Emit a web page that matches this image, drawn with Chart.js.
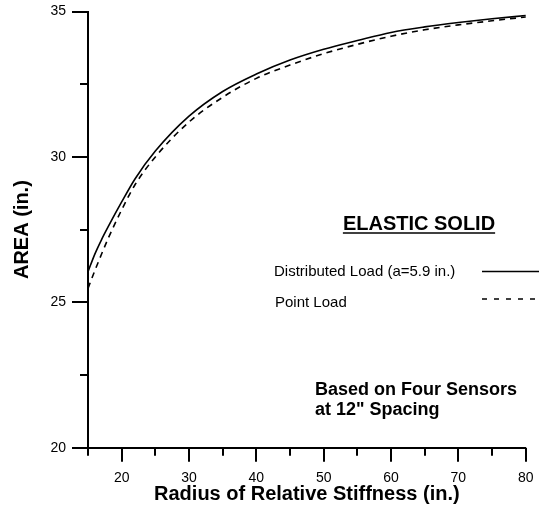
<!DOCTYPE html>
<html>
<head>
<meta charset="utf-8">
<script src="https://cdn.jsdelivr.net/npm/chart.js@4.4.1/dist/chart.umd.min.js"></script>
<style>
  html, body { margin: 0; padding: 0; background: #fff; }
</style>
</head>
<body>
<canvas id="areaChart" width="540" height="506"></canvas>
<script>
// radius of relative stiffness (in.)
const radius = [15, 16, 17, 18, 20, 22, 25, 30, 35, 40, 45, 50, 55, 60, 65, 70, 75, 80];
// AREA (in.)
const distributedArea = [26.05, 26.65, 27.15, 27.6, 28.45, 29.25, 30.2, 31.4, 32.25, 32.85, 33.33, 33.7, 34.0, 34.28, 34.47, 34.62, 34.75, 34.86];
const pointArea = [25.48, 26.08, 26.65, 27.2, 28.18, 29.05, 30.0, 31.2, 32.05, 32.7, 33.16, 33.55, 33.87, 34.15, 34.37, 34.54, 34.68, 34.81];

const xTickLabels = [20, 30, 40, 50, 60, 70, 80];
const xMinorTicks = [15, 25, 35, 45, 55, 65, 75];
const yTickLabels = [20, 25, 30, 35];
const yMinorTicks = [22.5, 27.5, 32.5];

const FONT = "Arial, 'Liberation Sans', sans-serif";

const toPoints = (ys) => radius.map((r, i) => ({ x: r, y: ys[i] }));

// labels may hang over the plot edges, the layout padding decides
const noScalePadding = (scale) => {
  scale.paddingTop = 0;
  scale.paddingBottom = 0;
  scale.paddingLeft = 0;
  scale.paddingRight = 0;
};

// tick marks of two lengths, hung off the library's scales
const tickMarks = {
  id: "tickMarks",
  afterDraw(chart) {
    const { ctx, chartArea } = chart;
    const { x, y } = chart.scales;
    ctx.save();
    ctx.strokeStyle = "#000";
    ctx.lineWidth = 2;
    const xTick = (v, len) => {
      const px = Math.round(x.getPixelForValue(v));
      ctx.beginPath();
      ctx.moveTo(px, chartArea.bottom);
      ctx.lineTo(px, chartArea.bottom + len);
      ctx.stroke();
    };
    const yTick = (v, len) => {
      const py = Math.round(y.getPixelForValue(v));
      ctx.beginPath();
      ctx.moveTo(chartArea.left, py);
      ctx.lineTo(chartArea.left - len, py);
      ctx.stroke();
    };
    xTickLabels.forEach((v) => xTick(v, 14));
    xMinorTicks.forEach((v) => xTick(v, 8));
    yTickLabels.forEach((v) => yTick(v, 16));
    yMinorTicks.forEach((v) => yTick(v, 8));
    ctx.restore();
  },
};

// legend box and note in the empty part of the plot
const notes = {
  id: "notes",
  afterDraw(chart) {
    const { ctx } = chart;
    ctx.save();
    ctx.fillStyle = "#000";
    ctx.strokeStyle = "#000";
    ctx.textBaseline = "alphabetic";

    ctx.font = `bold 20px ${FONT}`;
    ctx.textAlign = "center";
    ctx.fillText("ELASTIC SOLID", 419, 230);
    const w = ctx.measureText("ELASTIC SOLID").width;
    ctx.lineWidth = 1.5;
    ctx.beginPath();
    ctx.moveTo(419 - w / 2, 233);
    ctx.lineTo(419 + w / 2, 233);
    ctx.stroke();

    ctx.textAlign = "left";
    ctx.font = `15px ${FONT}`;
    ctx.fillText("Distributed Load (a=5.9 in.)", 274, 276);
    ctx.fillText("Point Load", 275, 306.5);

    ctx.lineWidth = 1.6;
    ctx.beginPath();
    ctx.moveTo(482, 271.5);
    ctx.lineTo(539, 271.5);
    ctx.stroke();
    ctx.setLineDash([5, 7]);
    ctx.beginPath();
    ctx.moveTo(482, 299);
    ctx.lineTo(539, 299);
    ctx.stroke();
    ctx.setLineDash([]);

    ctx.font = `bold 18px ${FONT}`;
    ctx.fillText("Based on Four Sensors", 315, 395);
    ctx.fillText('at 12" Spacing', 315, 415);
    ctx.restore();
  },
};

new Chart(document.getElementById("areaChart"), {
  type: "line",
  data: {
    datasets: [
      {
        label: "Distributed Load (a=5.9 in.)",
        data: toPoints(distributedArea),
        borderColor: "#000",
        borderWidth: 1.6,
        pointRadius: 0,
        cubicInterpolationMode: "monotone",
        fill: false,
      },
      {
        label: "Point Load",
        data: toPoints(pointArea),
        borderColor: "#000",
        borderWidth: 1.6,
        borderDash: [6, 5],
        pointRadius: 0,
        cubicInterpolationMode: "monotone",
        fill: false,
      },
    ],
  },
  options: {
    responsive: false,
    animation: false,
    events: [],
    clip: false,
    layout: { autoPadding: false, padding: { top: 11.5, right: 14.3, left: 0, bottom: 0 } },
    plugins: {
      legend: { display: false },
      tooltip: { enabled: false },
    },
    scales: {
      x: {
        type: "linear",
        min: 15,
        max: 80,
        afterBuildTicks: (scale) => {
          scale.ticks = xTickLabels.map((v) => ({ value: v }));
        },
        afterFit: (scale) => {
          scale.height = 58.3;
          noScalePadding(scale);
        },
        grid: { display: false, drawTicks: false },
        border: { display: true, color: "#000", width: 2 },
        ticks: {
          padding: 22,
          color: "#000",
          maxRotation: 0,
          font: { family: FONT, size: 14 },
        },
        title: {
          display: true,
          text: "Radius of Relative Stiffness (in.)",
          color: "#000",
          padding: { top: 0, bottom: 0 },
          font: { family: FONT, size: 20, weight: "bold" },
        },
      },
      y: {
        type: "linear",
        min: 20,
        max: 35,
        afterBuildTicks: (scale) => {
          scale.ticks = yTickLabels.map((v) => ({ value: v }));
        },
        afterFit: (scale) => {
          scale.width = 88;
          noScalePadding(scale);
        },
        grid: { display: false, drawTicks: false },
        border: { display: true, color: "#000", width: 2 },
        ticks: {
          padding: 22,
          color: "#000",
          font: { family: FONT, size: 14 },
        },
        title: {
          display: true,
          text: "AREA (in.)",
          color: "#000",
          padding: { top: 10, bottom: 0 },
          font: { family: FONT, size: 20, weight: "bold" },
        },
      },
    },
  },
  plugins: [tickMarks, notes],
});
</script>
</body>
</html>
